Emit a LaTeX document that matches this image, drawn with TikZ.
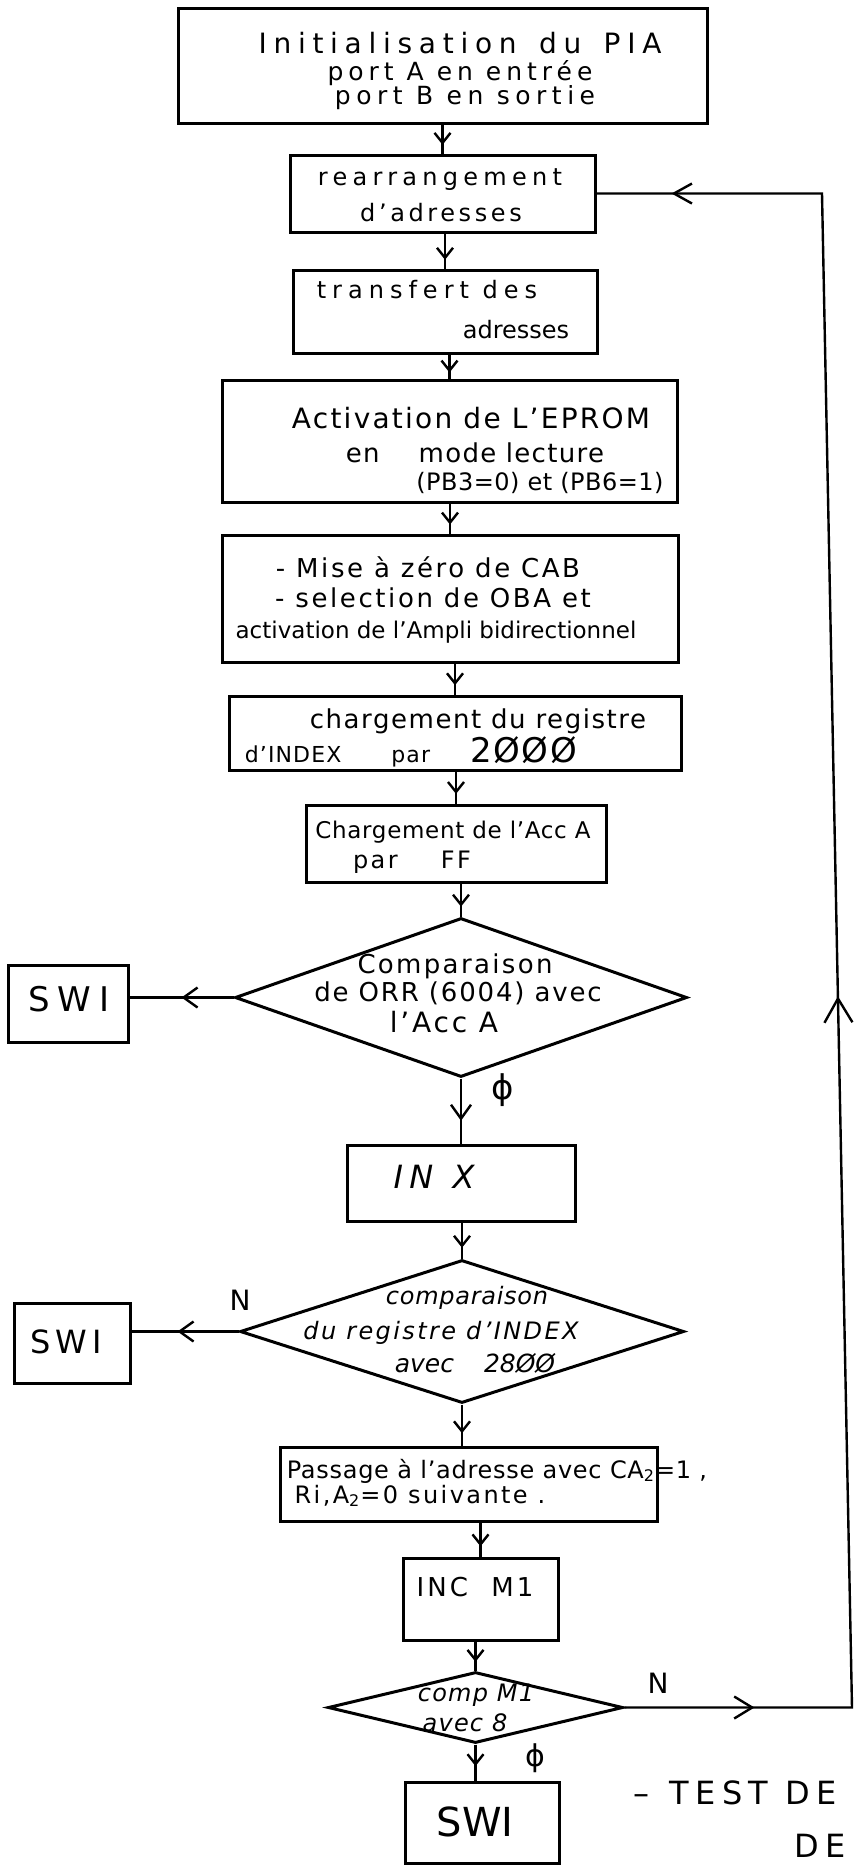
\documentclass[tikz,border=0pt]{standalone}
\usepackage{fontspec}
\setmainfont{DejaVu Sans}
\usetikzlibrary{shapes.geometric,arrows.meta,decorations.markings}
\newcommand\F[2]{\fontsize{#1pt}{#1pt}\selectfont\addfontfeature{LetterSpace=#2}}
\tikzset{
  box/.style={draw, rectangle, line width=1.5pt, inner sep=0pt},
  dia/.style={draw, diamond, line width=1.5pt, inner sep=0pt},
  conn/.style={line width=1.2pt},
  txt/.style={inner sep=0pt, align=center},
  ma/.style={postaction={decorate, decoration={markings,
      mark=at position #1 with {\arrow{Straight Barb[length=5pt,width=8pt]}}}}},
  mah/.style={postaction={decorate, decoration={markings,
      mark=at position #1 with {\arrow{Straight Barb[length=7pt,width=10pt]}}}}},
  fb/.style={postaction={decorate, decoration={markings,
      mark=at position 65pt with {\arrow{Straight Barb[length=9pt,width=11pt]}},
      mark=at position 469.5pt with {\arrow{Straight Barb[length=12pt,width=14pt]}},
      mark=at position -37.5pt with {\arrow{Straight Barb[length=9pt,width=10pt]}}}}}
}
\begin{document}
\begin{tikzpicture}[x=0.5pt,y=-0.5pt]
\fill[white] (0,0) rectangle (854,1865);
\useasboundingbox (0,0) rectangle (854,1865);

% boxes
\node[box, minimum width=264.5pt, minimum height=57.5pt] (B1) at (442.5,65.5) {};
\node[txt, font=\F{14}{24}] (B1a) at (460,43) {Initialisation\hspace{0.8em}du\hspace{0.8em}PIA};
\node[txt, font=\F{12.5}{20}] (B1b) at (460,73) {port A en entrée};
\node[txt, font=\F{12.5}{22}] (B1c) at (465,98) {port B en sortie};

\node[box, minimum width=152.5pt, minimum height=38.5pt] (B2) at (442.5,193.5) {};
\node[txt, font=\F{12}{22}] (B2a) at (440,180) {rearrangement};
\node[txt, font=\F{12}{15}] (B2b) at (441,213) {d'adresses};

\node[box, minimum width=152pt, minimum height=41.5pt] (B3) at (445,311.5) {};
\node[txt, font=\F{12}{25}] (B3a) at (427,290) {transfert des};
\node[txt, font=\F{12}{0}] (B3b) at (516,330) {adresses};

\node[box, minimum width=227.5pt, minimum height=61pt] (B4) at (449.5,441) {};
\node[txt, font=\F{14}{8}] (B4a) at (471,418) {Activation de L'EPROM};
\node[txt, font=\F{13}{5}] (B4b) at (475,453) {en\hspace{1.5em}mode lecture};
\node[txt, font=\F{12}{2}] (B4c) at (540,483) {(PB3=0) et (PB6=1)};

\node[box, minimum width=228pt, minimum height=63.5pt] (B5) at (450,598.5) {};
\node[txt, font=\F{13}{10}] (B5a) at (428,567) {- Mise à zéro de CAB};
\node[txt, font=\F{13}{10}] (B5b) at (433,598) {- selection de OBA et};
\node[txt, font=\F{11.5}{0}] (B5c) at (436,632) {activation de l'Ampli bidirectionnel};

\node[box, minimum width=226pt, minimum height=37pt] (B6) at (455,733) {};
\node[txt, font=\F{13}{6}] (B6a) at (478,721) {chargement du registre};
\node[txt, font=\F{11}{5}] (B6b) at (411,752) {d'INDEX\hspace{25pt}par\hspace{20pt}{\fontsize{17pt}{17pt}\selectfont 2ØØØ}};

\node[box, minimum width=150pt, minimum height=38.5pt] (B7) at (456,843.5) {};
\node[txt, font=\F{11.5}{3}] (B7a) at (453,832) {Chargement de l'Acc A};
\node[txt, font=\F{12}{10}] (B7b) at (412,862) {par\hspace{1.8em}FF};

% decision 1
\node[dia, minimum width=226pt, minimum height=79.5pt] (D1) at (461,997.5) {};
\node[txt, font=\F{13}{9}] (D1a) at (455,966) {Comparaison};
\node[txt, font=\F{13}{7}] (D1b) at (458,993) {de ORR (6004) avec};
\node[txt, font=\F{14}{10}] (D1c) at (444,1022) {l'Acc A};

\node[box, minimum width=60pt, minimum height=38.5pt] (S1) at (68,1003.5) {};
\node[txt, font=\F{17}{22}] (S1t) at (69,999) {SWI};

\node[txt, font=\F{17}{0}] (phi1) at (503,1090) {ϕ};

\node[box, minimum width=114pt, minimum height=38pt] (INX) at (461,1183) {};
\node[txt, font=\itshape\F{16}{20}] (INXt) at (434,1177) {IN\hspace{0.6em}X};

% decision 2
\node[dia, minimum width=222pt, minimum height=71.5pt] (D2) at (462,1331.5) {};
\node[txt, font=\itshape\F{12}{3}] (D2a) at (467,1298) {comparaison};
\node[txt, font=\itshape\F{12}{10}] (D2b) at (441,1333) {du registre d'INDEX};
\node[txt, font=\itshape\F{12.5}{0}] (D2c) at (475,1363) {avec\hspace{1.2em}28ØØ};

\node[box, minimum width=58pt, minimum height=40pt] (S2) at (72,1343) {};
\node[txt, font=\F{16}{15}] (S2t) at (66,1342) {SWI};
\node[txt, font=\F{14}{0}] (N1) at (240,1300) {N};

\node[box, minimum width=188.5pt, minimum height=37pt] (P) at (468.5,1484) {};
\node[txt, font=\F{12}{3}] (Pa) at (497,1471) {Passage à l'adresse avec CA\textsubscript{2}=1 ,};
\node[txt, font=\F{12}{10}] (Pb) at (420,1496) {Ri,A\textsubscript{2}=0 suivante .};

\node[box, minimum width=77.5pt, minimum height=41pt] (INC) at (480.5,1599) {};
\node[txt, font=\F{13}{12}] (INCt) at (475,1587) {INC\hspace{0.9em}M1};

% decision 3
\node[dia, minimum width=147.5pt, minimum height=35.5pt] (D3) at (475.5,1707.5) {};
\node[txt, font=\itshape\F{12}{5}] (D3a) at (476,1695) {comp M1};
\node[txt, font=\itshape\F{12}{5}] (D3b) at (465,1723) {avec 8};
\node[txt, font=\F{14}{0}] (N2) at (658,1683) {N};
\node[txt, font=\F{15}{0}] (phi2) at (535,1758) {ϕ};

\node[box, minimum width=77pt, minimum height=40.5pt] (S3) at (482,1822.5) {};
\node[txt, font=\F{20}{0}] (S3t) at (475,1822) {SWI};

\node[txt, font=\F{16}{20}] (T1) at (735,1793) {–\hspace{10pt}TEST DE};
\node[txt, font=\F{16}{20}] (T2) at (820,1846) {DE};

% connectors
\draw[conn, ma=0.7] (B1.south) -- (B1.south |- B2.north);
\draw[conn, ma=0.75] (B3.north |- B2.south) -- (B3.north);
\draw[conn, ma=0.75] (B4.north |- B3.south) -- (B4.north);
\draw[conn, ma=0.7] (B5.north |- B4.south) -- (B5.north);
\draw[conn, ma=0.7] (B6.north |- B5.south) -- (B6.north);
\draw[conn, ma=0.7] (B7.north |- B6.south) -- (B7.north);
\draw[conn, ma=0.7] (D1.north |- B7.south) -- (D1.north);
\draw[conn, mah=0.65] (D1.south) -- (D1.south |- INX.north);
\draw[conn, mah=0.5] (D1.west) -- (D1.west -| S1.east);
\draw[conn, ma=0.7] (D2.north |- INX.south) -- (D2.north);
\draw[conn, mah=0.57] (D2.west) -- (D2.west -| S2.east);
\draw[conn, ma=0.7] (D2.south) -- (D2.south |- P.north);
\draw[conn, ma=0.7] (INC.north |- P.south) -- (INC.north);
\draw[conn, ma=0.7] (D3.north |- INC.south) -- (D3.north);
\draw[conn, ma=0.6] (D3.south) -- (D3.south |- S3.north);

\coordinate (r1) at (852,1707.5);
\coordinate (r2) at (822,193.5);
\draw[conn, fb] (D3.east) -- (r1) -- (r2) -- (B2.east);
\end{tikzpicture}
\end{document}
